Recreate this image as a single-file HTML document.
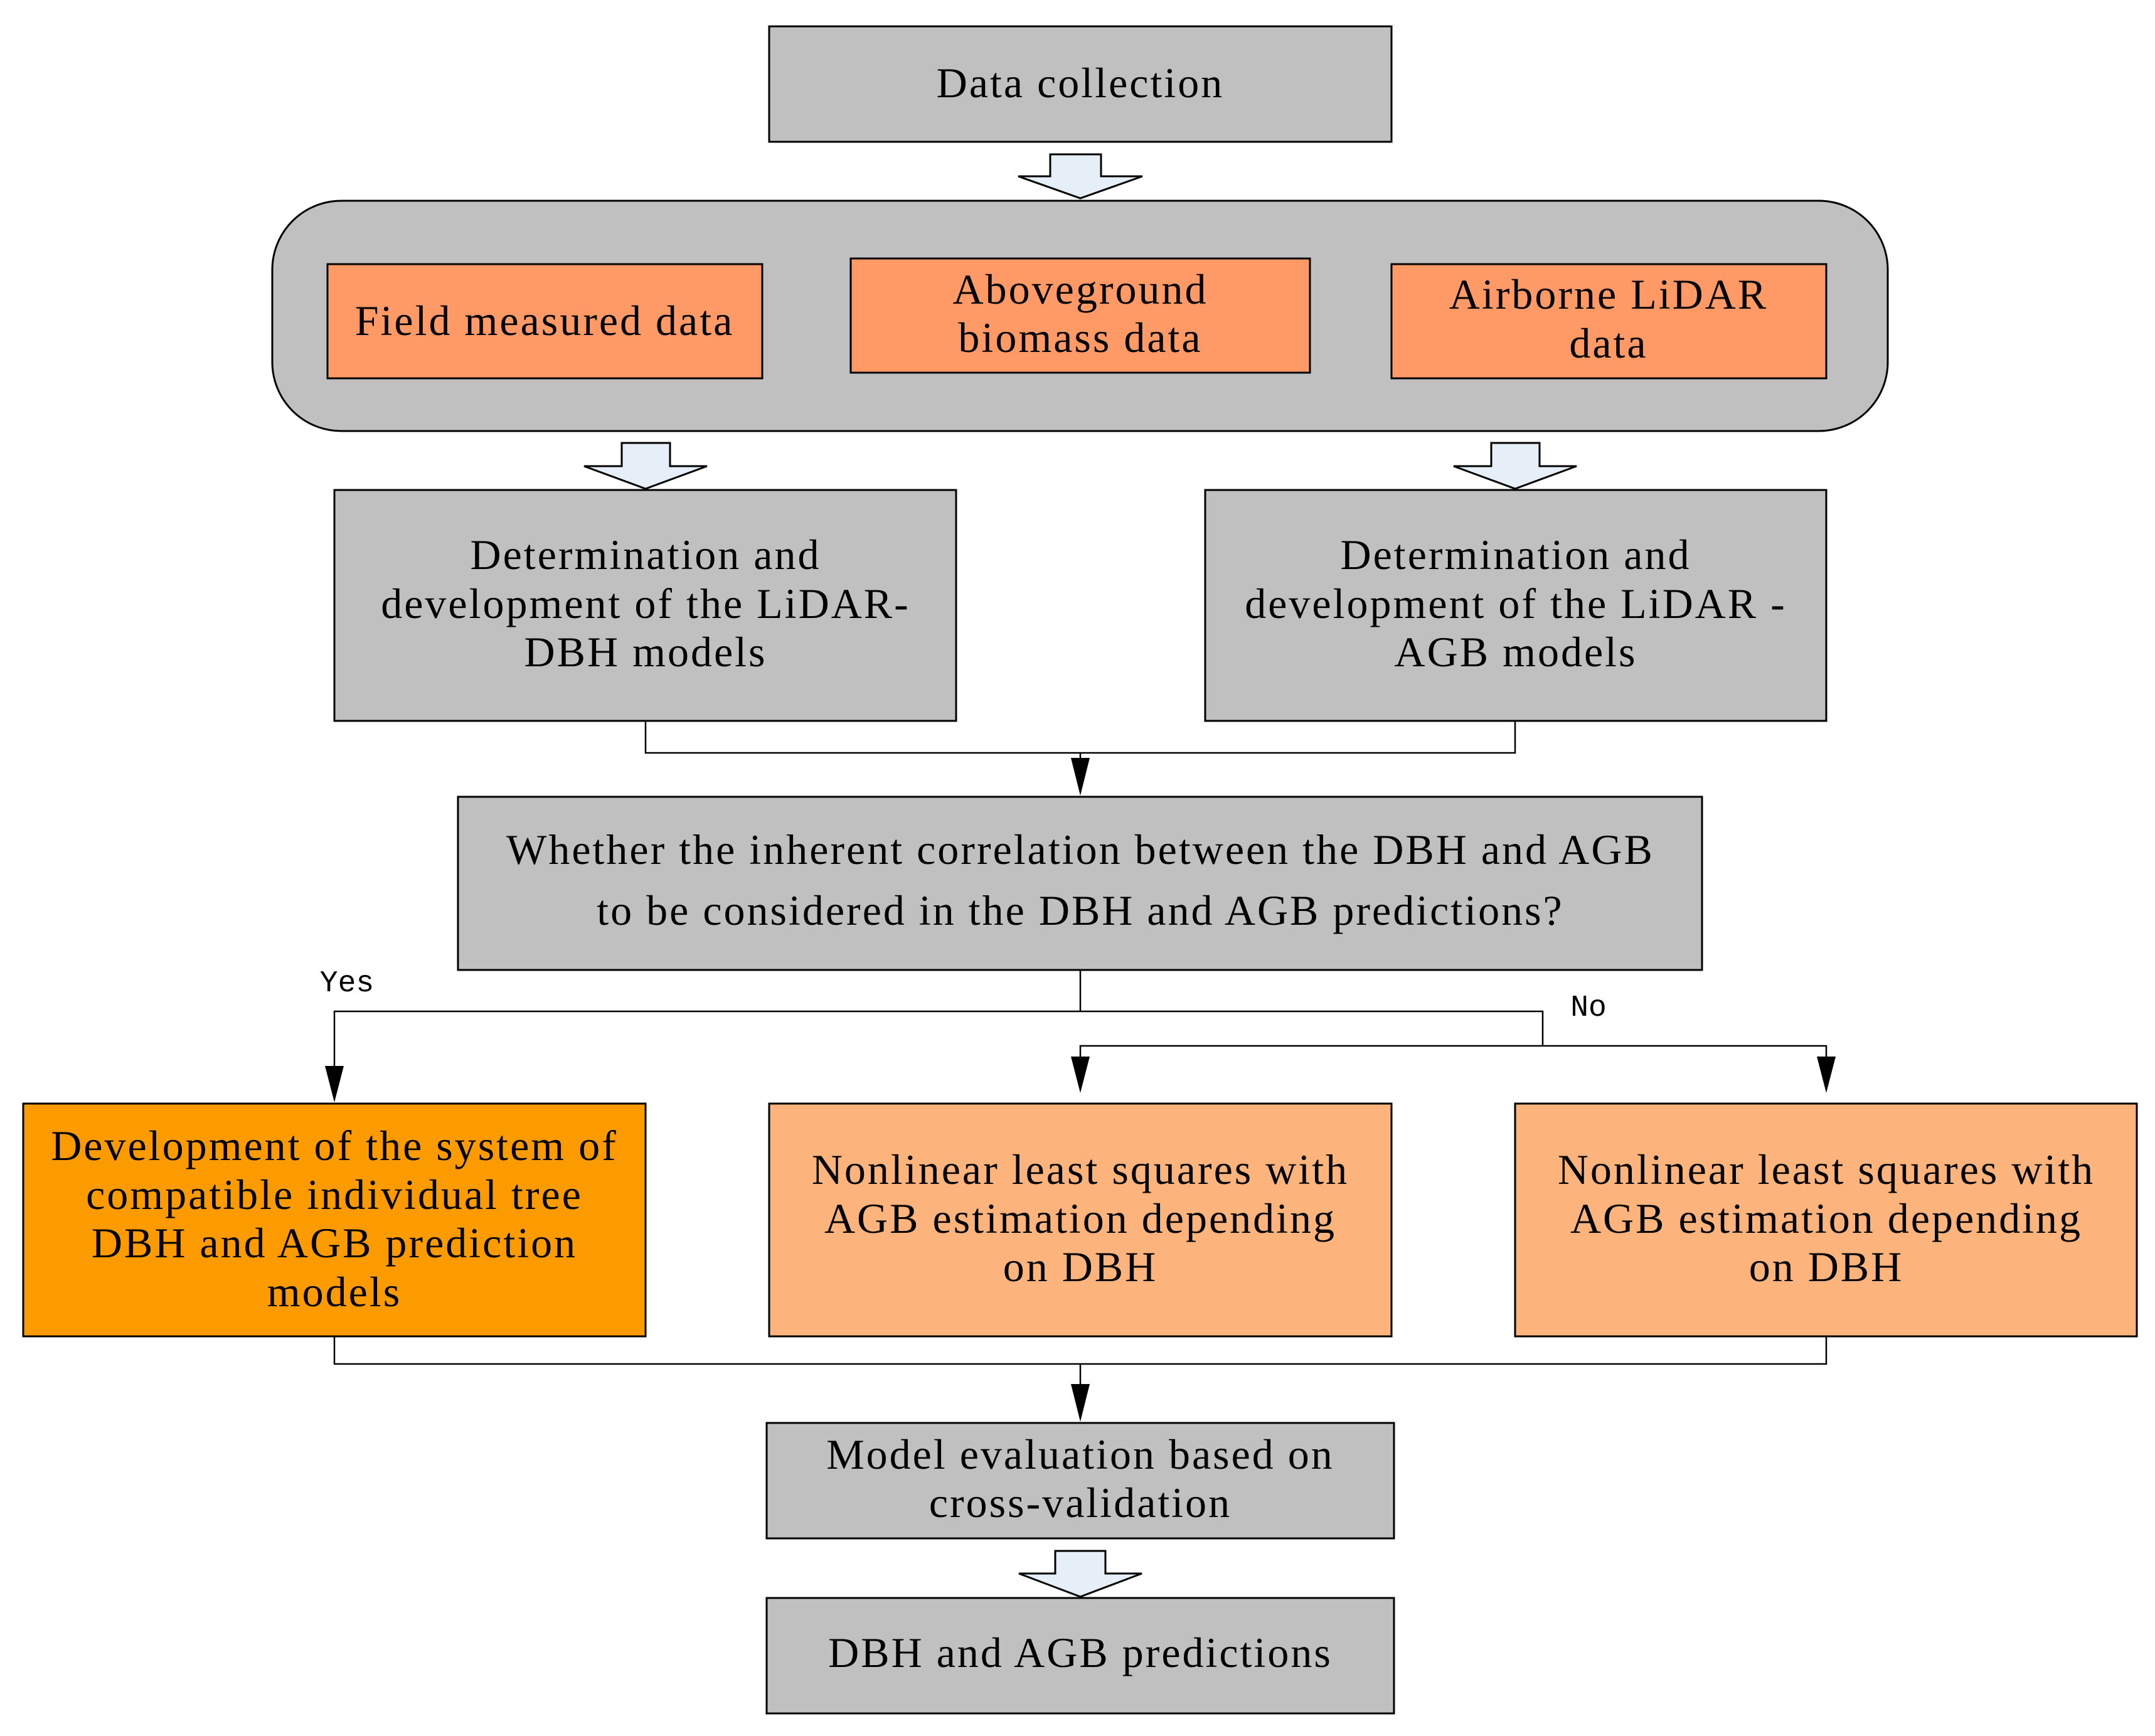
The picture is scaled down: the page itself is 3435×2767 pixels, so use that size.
<!DOCTYPE html>
<html><head><meta charset="utf-8"><style>
html,body{margin:0;padding:0;background:#fff;}
svg{display:block;}
text{font-family:"Liberation Serif",serif;font-size:68px;letter-spacing:3px;fill:#000;text-anchor:middle;}
.m{font-family:"Liberation Mono",monospace;font-size:48px;letter-spacing:0;}
</style></head><body>
<svg width="3435" height="2767" viewBox="0 0 3435 2767" xmlns="http://www.w3.org/2000/svg">
<g stroke="#000" stroke-width="3">
<rect x="1226" y="42" width="992" height="184" fill="#c0c0c0"/>
<polygon points="1674,246 1755,246 1755,281 1821,281 1722,316 1623,281 1674,281" fill="#e6eef8"/>
<rect x="434" y="320" width="2575" height="367" rx="110" ry="110" fill="#c0c0c0"/>
<rect x="522" y="421" width="693" height="182" fill="#ff9966"/>
<rect x="1356" y="412" width="732" height="182" fill="#ff9966"/>
<rect x="2218" y="421" width="693" height="182" fill="#ff9966"/>
<polygon points="991,706 1068,706 1068,743 1127,743 1029,779 931,743 991,743" fill="#e6eef8"/>
<polygon points="2377,706 2454,706 2454,743 2513,743 2415,779 2317,743 2377,743" fill="#e6eef8"/>
<rect x="533" y="781" width="991" height="368" fill="#c0c0c0"/>
<rect x="1921" y="781" width="990" height="368" fill="#c0c0c0"/>
<polyline points="1029,1149 1029,1200 2415,1200 2415,1149" fill="none" stroke-width="2.5"/>
<line x1="1722" y1="1200" x2="1722" y2="1230" stroke-width="2.5"/>
<rect x="730" y="1270" width="1983" height="276" fill="#c0c0c0"/>
<line x1="1722" y1="1546" x2="1722" y2="1612" stroke-width="2.5"/>
<polyline points="533,1720 533,1612 2459,1612 2459,1667" fill="none" stroke-width="2.5"/>
<polyline points="1722,1700 1722,1667 2911,1667 2911,1700" fill="none" stroke-width="2.5"/>
<rect x="37" y="1759" width="992" height="371" fill="#fc9b00"/>
<rect x="1226" y="1759" width="992" height="371" fill="#fdb47c"/>
<rect x="2415" y="1759" width="991" height="371" fill="#fdb47c"/>
<polyline points="533,2130 533,2174 2911,2174 2911,2130" fill="none" stroke-width="2.5"/>
<line x1="1722" y1="2174" x2="1722" y2="2212" stroke-width="2.5"/>
<rect x="1222" y="2268" width="1000" height="184" fill="#c0c0c0"/>
<polygon points="1682,2472 1762,2472 1762,2508 1820,2508 1722,2545 1624,2508 1682,2508" fill="#e6eef8"/>
<rect x="1222" y="2547" width="1000" height="184" fill="#c0c0c0"/>
</g>
<g fill="#000">
<polygon points="1707,1208 1737,1208 1722,1268"/>
<polygon points="518,1699 548,1699 533,1757"/>
<polygon points="1707,1684 1737,1684 1722,1742"/>
<polygon points="2896,1684 2926,1684 2911,1742"/>
<polygon points="1707,2206 1737,2206 1722,2266"/>
</g>
<text x="1722" y="155">Data collection</text>
<text x="868" y="534">Field measured data</text>
<text x="1722" y="484">Aboveground</text>
<text x="1722" y="561">biomass data</text>
<text x="2564" y="492">Airborne LiDAR</text>
<text x="2564" y="570">data</text>
<text x="1029" y="907">Determination and</text>
<text x="1029" y="985">development of the LiDAR-</text>
<text x="1029" y="1062">DBH models</text>
<text x="2416" y="907">Determination and</text>
<text x="2416" y="985">development of the LiDAR -</text>
<text x="2416" y="1062">AGB models</text>
<text x="1722" y="1377">Whether the inherent correlation between the DBH and AGB</text>
<text x="1722" y="1474">to be considered in the  DBH and AGB predictions?</text>
<text class="m" x="553" y="1580">Yes</text>
<text class="m" x="2532" y="1619">No</text>
<text x="533" y="1849">Development of the system of</text>
<text x="533" y="1927">compatible individual tree</text>
<text x="533" y="2004">DBH and AGB prediction</text>
<text x="533" y="2082">models</text>
<text x="1722" y="1887">Nonlinear least squares with</text>
<text x="1722" y="1965">AGB estimation depending</text>
<text x="1722" y="2042">on DBH</text>
<text x="2911" y="1887">Nonlinear least squares with</text>
<text x="2911" y="1965">AGB estimation depending</text>
<text x="2911" y="2042">on DBH</text>
<text x="1722" y="2341">Model evaluation based on</text>
<text x="1722" y="2418">cross-validation</text>
<text x="1722" y="2657">DBH and AGB predictions</text>
</svg>
</body></html>
